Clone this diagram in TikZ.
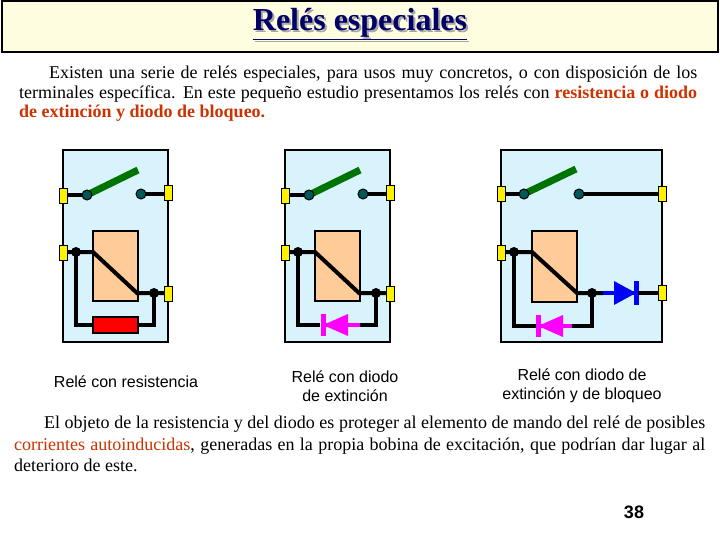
\documentclass[tikz,border=0pt]{standalone}
\usepackage{fontspec}
\setmainfont{Liberation Serif}
\newfontfamily\arial{Liberation Sans}
\definecolor{emph}{RGB}{204,51,0}
\definecolor{mag}{RGB}{255,0,255}
\begin{document}
\begin{tikzpicture}[x=1pt,y=-1pt,
  relbox/.style={draw=black,line width=2.5pt,fill=cyan!15},
  coil/.style={draw=black,line width=2.5pt,fill=orange!40},
  term/.style={draw=black,line width=1pt,fill=yellow,minimum width=8pt,minimum height=15pt,inner sep=0pt},
  wire/.style={line width=4pt,black},
  dotn/.style={circle,fill=black,inner sep=0pt,minimum size=10pt},
  cdot/.style={circle,draw=black,fill=teal!70!black,inner sep=0pt,minimum size=10pt,line width=1pt},
  arm/.style={line width=7pt,green!45!black},
  txt/.style={font=\fontsize{18}{19.5}\selectfont,align=justify,anchor=north west,inner sep=0pt},
  lab/.style={font=\arial\fontsize{16}{19}\selectfont,align=center}]
\useasboundingbox (0,0) rectangle (720,540);
\fill[white] (0,0) rectangle (720,540);
\node[draw=black,line width=2pt,fill=yellow!12,minimum width=716,minimum height=51,inner sep=0pt] (title) at (360,27) {};
\node[font=\bfseries\fontsize{32}{34}\selectfont,text=gray!70] at (362,26) {\underline{Relés especiales}};
\node[font=\bfseries\fontsize{32}{34}\selectfont,text=blue!40!black] (tt) at (360,24) {\underline{Relés especiales}};
\node[txt,text width=678] (p1) at (19,66) {\hyphenpenalty=10000\relax\hspace*{30pt}Existen una serie de relés especiales, para usos muy concretos, o con disposición de los terminales específica. En este pequeño estudio presentamos los relés con \textcolor{emph}{\bfseries resistencia o diodo de extinción y diodo de bloqueo.}};
% relays
\foreach \ox in {0,222}{
 \begin{scope}[xshift=\ox]
 \draw[relbox] (63,150) rectangle (168,342);
 \draw[coil] (93,231) rectangle (138,301);
 \draw[wire] (63,195) -- (87,195);
 \draw[arm] (87,195) -- (138,170);
 \node[cdot] at (87,195) {};
 \draw[wire] (141,194) -- (168,194);
 \node[cdot] at (141,194) {};
 \draw[wire] (63,252) -- (93,252) -- (137,293) -- (168,293);
 \draw[wire] (76,252) -- (76,325) -- (154,325) -- (154,293);
 \node[dotn] at (76,252) {}; \node[dotn] at (154,293) {};
 \node[term] at (63,196) {}; \node[term] at (63,253) {};
 \node[term] at (168,193) {}; \node[term] at (168,294) {};
 \end{scope}}
\fill[red,draw=black,line width=2pt] (93,317) rectangle (138,333);
\fill[cyan!15] (320,316) rectangle (360,333);
\draw[mag,line width=4pt] (322,325) -- (360,325);
\fill[mag] (323,325) -- (348,314) -- (348,336) -- cycle;
\draw[mag,line width=5pt] (323,314) -- (323,336);
% relay 3
\draw[relbox] (501,150) rectangle (662,342);
\draw[coil] (532,231) rectangle (577,302);
\draw[wire] (501,194) -- (524,194);
\draw[arm] (524,194) -- (576,169);
\node[cdot] at (524,194) {};
\draw[wire] (579,194) -- (662,194);
\node[cdot] at (579,194) {};
\draw[wire] (501,252) -- (532,252) -- (577,293) -- (603,293);
\draw[blue,line width=4pt] (603,293) -- (635,293);
\fill[blue] (636,293) -- (614,281) -- (614,305) -- cycle;
\draw[blue,line width=5pt] (636,281) -- (636,305);
\draw[wire] (638,293) -- (662,293);
\draw[wire] (514,252) -- (514,326) -- (537,326);
\draw[wire] (572,326) -- (592,326) -- (592,293);
\draw[mag,line width=4pt] (537,326) -- (572,326);
\fill[mag] (538,326) -- (563,315) -- (563,337) -- cycle;
\draw[mag,line width=5pt] (538,315) -- (538,337);
\node[dotn] at (514,252) {}; \node[dotn] at (592,293) {};
\node[term] at (501,194) {}; \node[term] at (501,253) {};
\node[term] at (662,194) {}; \node[term] at (662,293) {};
% labels
\node[lab] (l1) at (126,382) {Relé con resistencia};
\node[lab] (l2) at (345,386) {Relé con diodo\\de extinción};
\node[lab] (l3) at (582,386) {Relé con diodo de\\extinción y de bloqueo};
\node[txt,text width=691,font=\fontsize{18}{21.5}\selectfont] (p2) at (14,416) {\hyphenpenalty=10000\relax\hspace*{30pt}El objeto de la resistencia y del diodo es proteger al elemento de mando del relé de posibles \textcolor{emph}{corrientes autoinducidas}, generadas en la propia bobina de excitación, que podrían dar lugar al deterioro de este.};
\node[font=\arial\bfseries\fontsize{18}{20}\selectfont] (pg) at (634,512) {38};
\end{tikzpicture}
\end{document}
